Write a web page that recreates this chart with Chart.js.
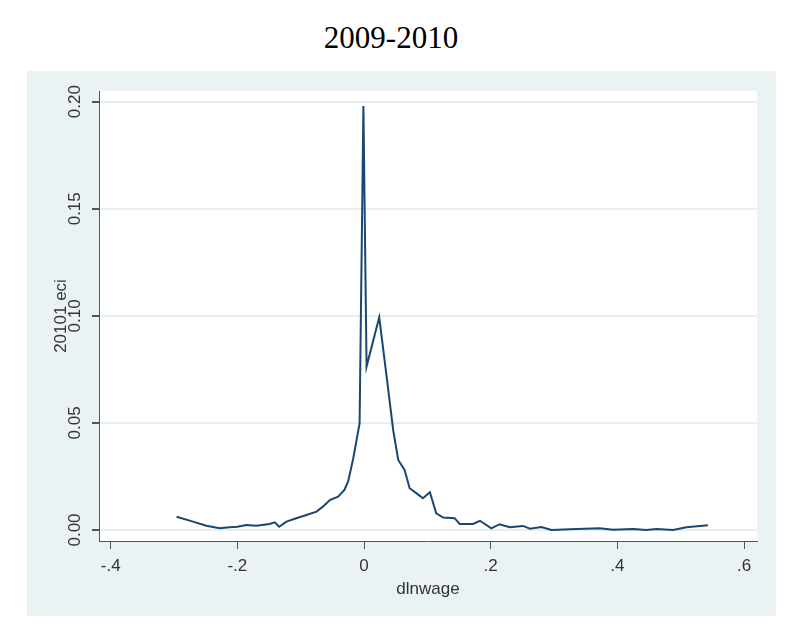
<!DOCTYPE html>
<html>
<head>
<meta charset="utf-8">
<script src="https://cdn.jsdelivr.net/npm/chart.js@4.4.1/dist/chart.umd.min.js"></script>
<style>
  body { margin: 0; background: #fff; width: 800px; height: 641px; position: relative; overflow: hidden; }
  #title { position: absolute; left: 0; top: 20px; width: 782px; text-align: center;
           font: 31px "Liberation Serif", "Times New Roman", serif; color: #000; }
  #panel { position: absolute; left: 27px; top: 71px; width: 749px; height: 545px; background: #eaf2f3; }
</style>
</head>
<body>
<div id="title">2009-2010</div>
<div id="panel"><canvas id="myChart"></canvas></div>
<script>
// kernel density
const dlnwage = [
  -0.296, -0.270, -0.249, -0.228, -0.212, -0.200, -0.186, -0.170, -0.149, -0.141,
  -0.134, -0.1225, -0.107, -0.091, -0.075, -0.065, -0.054, -0.041, -0.031, -0.025,
  -0.017, -0.007, -0.001, 0.004, 0.024, 0.035, 0.046, 0.054, 0.064, 0.072,
  0.083, 0.093, 0.104, 0.114, 0.125, 0.143, 0.151, 0.172, 0.183, 0.201,
  0.214, 0.230, 0.251, 0.262, 0.280, 0.296, 0.325, 0.372, 0.393, 0.425,
  0.446, 0.462, 0.488, 0.509, 0.543
];
const density = [
  0.0062, 0.0039, 0.0020, 0.0008, 0.0013, 0.0015, 0.0023, 0.0020, 0.0028, 0.0036,
  0.0015, 0.0039, 0.0055, 0.0070, 0.0086, 0.0109, 0.0140, 0.0156, 0.0187, 0.0228,
  0.0335, 0.0498, 0.1980, 0.0763, 0.0993, 0.0732, 0.0467, 0.0327, 0.0280, 0.0195,
  0.0171, 0.0148, 0.0176, 0.0078, 0.0058, 0.0055, 0.0028, 0.0028, 0.0043, 0.0008,
  0.0027, 0.0013, 0.0019, 0.0006, 0.0014, 0.0000, 0.0003, 0.0008, 0.0001, 0.0005,
  0.0000, 0.0005, 0.0000, 0.0013, 0.0022
];

const xTicks = [-0.4, -0.2, 0, 0.2, 0.4, 0.6];
const xTickLabels = ["-.4", "-.2", "0", ".2", ".4", ".6"];
const yTicks = [0, 0.05, 0.10, 0.15, 0.20];
const yTickLabels = ["0.00", "0.05", "0.10", "0.15", "0.20"];

const points = dlnwage.map(function (x, i) {
  return { x: x, y: density[i] };
});

const axisColor = "#555";
const labelFont = { family: "Liberation Sans, Arial, sans-serif", size: 17 };

// white plot region inside the grey graph region
const plotBackground = {
  id: "plotBackground",
  beforeDraw: function (chart) {
    const a = chart.chartArea;
    chart.ctx.save();
    chart.ctx.fillStyle = "#ffffff";
    chart.ctx.fillRect(a.left, a.top, a.right - a.left, a.bottom - a.top);
    chart.ctx.restore();
  },
};

const ctx = document.getElementById("myChart").getContext("2d");
const myChart = new Chart(ctx, {
  type: "scatter",
  data: {
    datasets: [
      {
        label: "20101 eci",
        data: points,
        showLine: true,
        borderColor: "#1a476f",
        borderWidth: 2,
        pointRadius: 0,
        tension: 0,
      },
    ],
  },
  options: {
    responsive: true,
    maintainAspectRatio: false,
    animation: false,
    layout: { padding: { top: 20, right: 19, left: 0, bottom: 0 } },
    plugins: {
      legend: { display: false },
      tooltip: { enabled: false },
    },
    scales: {
      x: {
        type: "linear",
        min: -0.4185,
        max: 0.6205,
        afterBuildTicks: function (scale) {
          scale.ticks = xTicks.map(function (v) { return { value: v }; });
        },
        afterFit: function (scale) { scale.height = 75; },
        ticks: {
          padding: 7,
          color: "#333",
          font: labelFont,
          maxRotation: 0,
          callback: function (value) {
            return xTickLabels[xTicks.indexOf(value)];
          },
        },
        grid: {
          drawOnChartArea: false,
          tickColor: axisColor,
          tickLength: 8,
        },
        border: { color: axisColor, width: 1 },
        title: {
          display: true,
          text: "dlnwage",
          color: "#333",
          font: labelFont,
          padding: { top: 0, bottom: 16 },
        },
      },
      y: {
        type: "linear",
        min: -0.00514,
        max: 0.205,
        afterBuildTicks: function (scale) {
          scale.ticks = yTicks.map(function (v) { return { value: v }; });
        },
        afterFit: function (scale) { scale.width = 72; },
        ticks: {
          padding: 0,
          color: "#333",
          font: labelFont,
          minRotation: 90,
          maxRotation: 90,
          crossAlign: "center",
          callback: function (value) {
            return yTickLabels[yTicks.indexOf(value)];
          },
        },
        grid: {
          color: "#e6eef0",
          lineWidth: 2,
          tickColor: axisColor,
          tickLength: 7,
        },
        border: { color: axisColor, width: 1 },
        title: {
          display: true,
          text: "20101 eci",
          color: "#333",
          font: labelFont,
          padding: { top: 24, bottom: 0 },
        },
      },
    },
  },
  plugins: [plotBackground],
});
</script>
</body>
</html>
